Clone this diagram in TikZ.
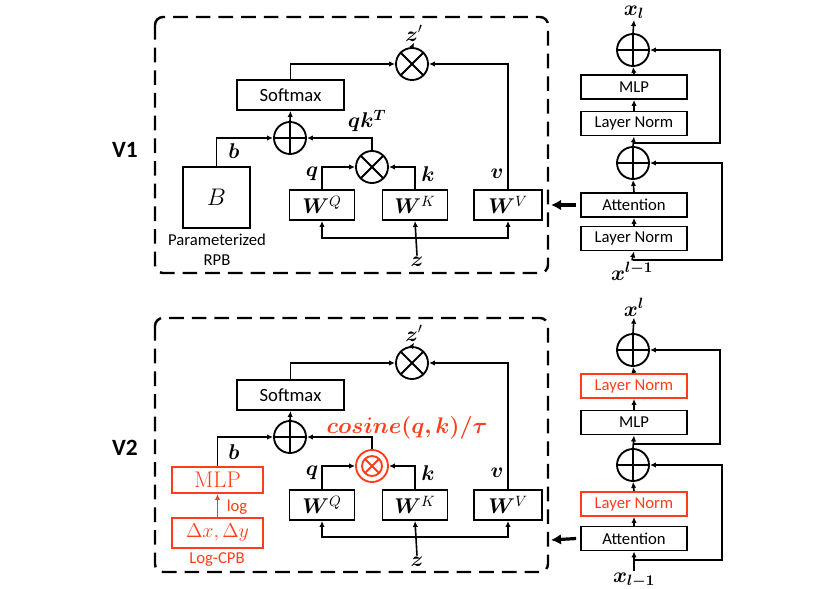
\RequirePackage{fix-cm}
\documentclass[tikz,border=0pt]{standalone}
\usepackage[no-math]{fontspec}
\setmainfont{Carlito}
\newfontfamily\lmrfont{Latin Modern Roman}
\usepackage{amsmath,bm}
\usetikzlibrary{arrows.meta,calc}
\definecolor{accent}{RGB}{255,61,26}
\begin{document}
\begin{tikzpicture}[x=0.75pt,y=-0.75pt,
  box/.style={draw,line width=1.4pt,inner sep=0pt,minimum width=79.5pt,minimum height=18pt,font=\fontsize{12.5}{14}\selectfont},
  redbox/.style={box,draw=accent,text=accent},
  wbox/.style={draw,line width=1.4pt,inner sep=0pt,minimum width=48.75pt,minimum height=22.5pt,font=\fontsize{16}{17}\selectfont},
  lab/.style={inner sep=1pt,font=\fontsize{16}{17}\selectfont},
  vlab/.style={inner sep=0pt,font=\fontsize{17.5}{20}\selectfont\bfseries},
  note/.style={inner sep=0pt,font=\fontsize{12.5}{15}\selectfont,align=center},
  frame/.style={draw,line width=1.8pt,dash pattern=on 11pt off 6pt,rounded corners=6pt},
  arr/.style={line width=1.2pt,-{Latex[length=4.5pt,width=4pt]}},
  bigarr/.style={line width=2.4pt,-{Latex[length=7.5pt,width=8pt]}},
  oplusnode/.style={circle,draw,line width=1.4pt,minimum size=24pt,inner sep=0pt,
    path picture={\draw[line width=1.4pt] (path picture bounding box.north) -- (path picture bounding box.south)
      (path picture bounding box.west) -- (path picture bounding box.east);}},
  otimesnode/.style={circle,draw,line width=1.4pt,minimum size=24pt,inner sep=0pt,
    path picture={\draw[line width=1.4pt] (path picture bounding box.center) ++(45:13pt) -- ++(225:26pt)
      (path picture bounding box.center) ++(135:13pt) -- ++(-45:26pt);}},
  redotimes/.style={circle,draw=accent,line width=1.4pt,minimum size=24pt,inner sep=0pt,
    path picture={\draw[accent,line width=1.4pt] (path picture bounding box.center) circle[radius=7.5pt]
      (path picture bounding box.center) ++(45:7.5pt) -- ++(225:15pt)
      (path picture bounding box.center) ++(135:7.5pt) -- ++(-45:15pt);}}
]
\useasboundingbox (0,0) rectangle (830,588);

% ================= V1 =================
\node[vlab] (v1) at (125,150) {V1};
\draw[frame] (155,17) rectangle (548,273);

\node[box,minimum width=80pt,minimum height=22.5pt,font=\fontsize{14}{16}\selectfont] (sm1) at (290.5,95) {Softmax};
\node[otimesnode] (mt1) at (412,64) {};
\node[lab] (zp1) at (414,33) {$\bm{z}'$};
\node[oplusnode] (op1) at (290,138) {};
\node[draw,line width=1.4pt,minimum width=50pt,minimum height=46pt,inner sep=0pt,font=\fontsize{18}{19}\selectfont] (B1) at (216.5,197.5) {$B$};
\node[note] (rpb1) at (217,250) {Parameterized\\RPB};
\node[lab] (b1) at (234,151) {$\bm{b}$};
\node[otimesnode] (mm1) at (372,167) {};
\node[lab] (qk1) at (367,121) {$\bm{q}\bm{k}^{\bm{T}}$};
\node[wbox] (wq1) at (322,205) {$\bm{W}^{Q}$};
\node[wbox] (wk1) at (415,205) {$\bm{W}^{K}$};
\node[wbox,minimum width=51pt] (wv1) at (508,205) {$\bm{W}^{V}$};
\node[lab] (q1) at (312,174) {$\bm{q}$};
\node[lab] (k1) at (428,174) {$\bm{k}$};
\node[lab] (vv1) at (497,174) {$\bm{v}$};
\node[lab] (z1) at (417,262) {$\bm{z}$};
\coordinate (h1) at (417,238);

\draw[arr] (sm1.north) |- (mt1.west);
\draw[arr] (wv1.north) |- (mt1.east);
\draw[arr] (mt1.north) -- (zp1.south);
\draw[arr] (op1.north) -- (sm1.south);
\draw[arr] (B1.north) |- (op1.west);
\draw[arr] (mm1.north) |- (op1.east);
\draw[arr] (wq1.north) |- (mm1.west);
\draw[arr] (wk1.north) |- (mm1.east);
\draw[arr] (z1.north) -- (wk1.south);
\draw[arr] (h1) -| (wq1.south);
\draw[arr] (h1) -| (wv1.south);

% right column V1
\node[lab] (xo1) at (634,12) {$\bm{x}_{\bm{l}}$};
\node[oplusnode] (opA1) at (633,50) {};
\node[box] (mlpA1) at (634,87) {MLP};
\node[box] (lnA1) at (634,123.5) {Layer Norm};
\node[oplusnode] (opB1) at (633,163) {};
\node[box] (attA1) at (634,205) {Attention};
\node[box] (lnB1) at (634,238.5) {Layer Norm};
\node[lab] (xi1) at (632,271) {$\bm{x}^{\bm{l-1}}$};
\coordinate (rA1) at (633,143);
\coordinate (cA1) at (720,143);
\coordinate (rB1) at (633,260);
\coordinate (cB1) at (722,260);
\coordinate (tip1) at (551,205);

\draw[arr] (opA1.north) -- (xo1.south);
\draw[arr] (mlpA1.north) -- (opA1.south);
\draw[arr] (lnA1.north) -- (mlpA1.south);
\draw[arr] (opB1.north) -- (lnA1.south);
\draw[arr] (attA1.north) -- (opB1.south);
\draw[arr] (lnB1.north) -- (attA1.south);
\draw[arr] (xi1.north) -- (lnB1.south);
\draw[arr] (rA1) -- (cA1) |- (opA1.east);
\draw[arr] (rB1) -- (cB1) |- (opB1.east);
\draw[bigarr] ([xshift=-3pt]attA1.west) -- (tip1);

% ================= V2 =================
\node[vlab] (v2) at (125,448) {V2};
\draw[frame] (155,318) rectangle (548,572);

\node[box,minimum width=80pt,minimum height=22.5pt,font=\fontsize{14}{16}\selectfont] (sm2) at (290.5,395) {Softmax};
\node[otimesnode] (mt2) at (412,363) {};
\node[lab] (zp2) at (414,333) {$\bm{z}'$};
\node[oplusnode] (op2) at (290,437) {};
\node[redbox,minimum width=68.25pt,minimum height=19.5pt,font=\fontsize{17}{18}\selectfont\lmrfont] (mlpL2) at (217.5,480) {MLP};
\node[redbox,minimum width=68.25pt,minimum height=22.5pt,font=\fontsize{15}{16}\selectfont] (dl2) at (217.5,533) {$\Delta x,\Delta y$};
\node[note,text=accent] (log2) at (237,507) {log};
\node[note,text=accent] (cpb2) at (217,560) {Log-CPB};
\node[lab] (b2) at (234,452) {$\bm{b}$};
\node[redotimes] (mm2) at (372,466) {};
\node[lab,text=accent,font=\fontsize{17}{18}\selectfont] (cos2) at (407,428) {$\bm{cosine(q,k)/\tau}$};
\node[wbox] (wq2) at (322,505) {$\bm{W}^{Q}$};
\node[wbox] (wk2) at (415,505) {$\bm{W}^{K}$};
\node[wbox,minimum width=51pt] (wv2) at (508,505) {$\bm{W}^{V}$};
\node[lab] (q2) at (312,473) {$\bm{q}$};
\node[lab] (k2) at (428,473) {$\bm{k}$};
\node[lab] (vv2) at (497,473) {$\bm{v}$};
\node[lab] (z2) at (417,562) {$\bm{z}$};
\coordinate (h2) at (417,537);

\draw[arr] (sm2.north) |- (mt2.west);
\draw[arr] (wv2.north) |- (mt2.east);
\draw[arr] (mt2.north) -- (zp2.south);
\draw[arr] (op2.north) -- (sm2.south);
\draw[arr] (mlpL2.north) |- (op2.west);
\draw[arr,accent] (dl2.north) -- (mlpL2.south);
\draw[arr] (mm2.north) |- (op2.east);
\draw[arr] (wq2.north) |- (mm2.west);
\draw[arr] (wk2.north) |- (mm2.east);
\draw[arr] (z2.north) -- (wk2.south);
\draw[arr] (h2) -| (wq2.south);
\draw[arr] (h2) -| (wv2.south);

% right column V2
\node[lab] (xo2) at (634,307) {$\bm{x}^{\bm{l}}$};
\node[oplusnode] (opA2) at (633,350) {};
\node[redbox] (lnA2) at (634,386) {Layer Norm};
\node[box] (mlpA2) at (634,422.5) {MLP};
\node[oplusnode] (opB2) at (633,465) {};
\node[redbox] (lnB2) at (634,504) {Layer Norm};
\node[box] (attA2) at (634,538.5) {Attention};
\node[lab] (xi2) at (634,580) {$\bm{x}_{\bm{l-1}}$};
\coordinate (rA2) at (633,444);
\coordinate (cA2) at (720,444);
\coordinate (rB2) at (633,560);
\coordinate (cB2) at (722,560);
\coordinate (tip2) at (551,540);

\draw[arr] (opA2.north) -- (xo2.south);
\draw[arr] (lnA2.north) -- (opA2.south);
\draw[arr] (mlpA2.north) -- (lnA2.south);
\draw[arr] (opB2.north) -- (mlpA2.south);
\draw[arr] (lnB2.north) -- (opB2.south);
\draw[arr] (attA2.north) -- (lnB2.south);
\draw[arr] (xi2.north) -- (attA2.south);
\draw[arr] (rA2) -- (cA2) |- (opA2.east);
\draw[arr] (rB2) -- (cB2) |- (opB2.east);
\draw[bigarr] ([xshift=-3pt]attA2.west) -- (tip2);
\end{tikzpicture}
\end{document}
